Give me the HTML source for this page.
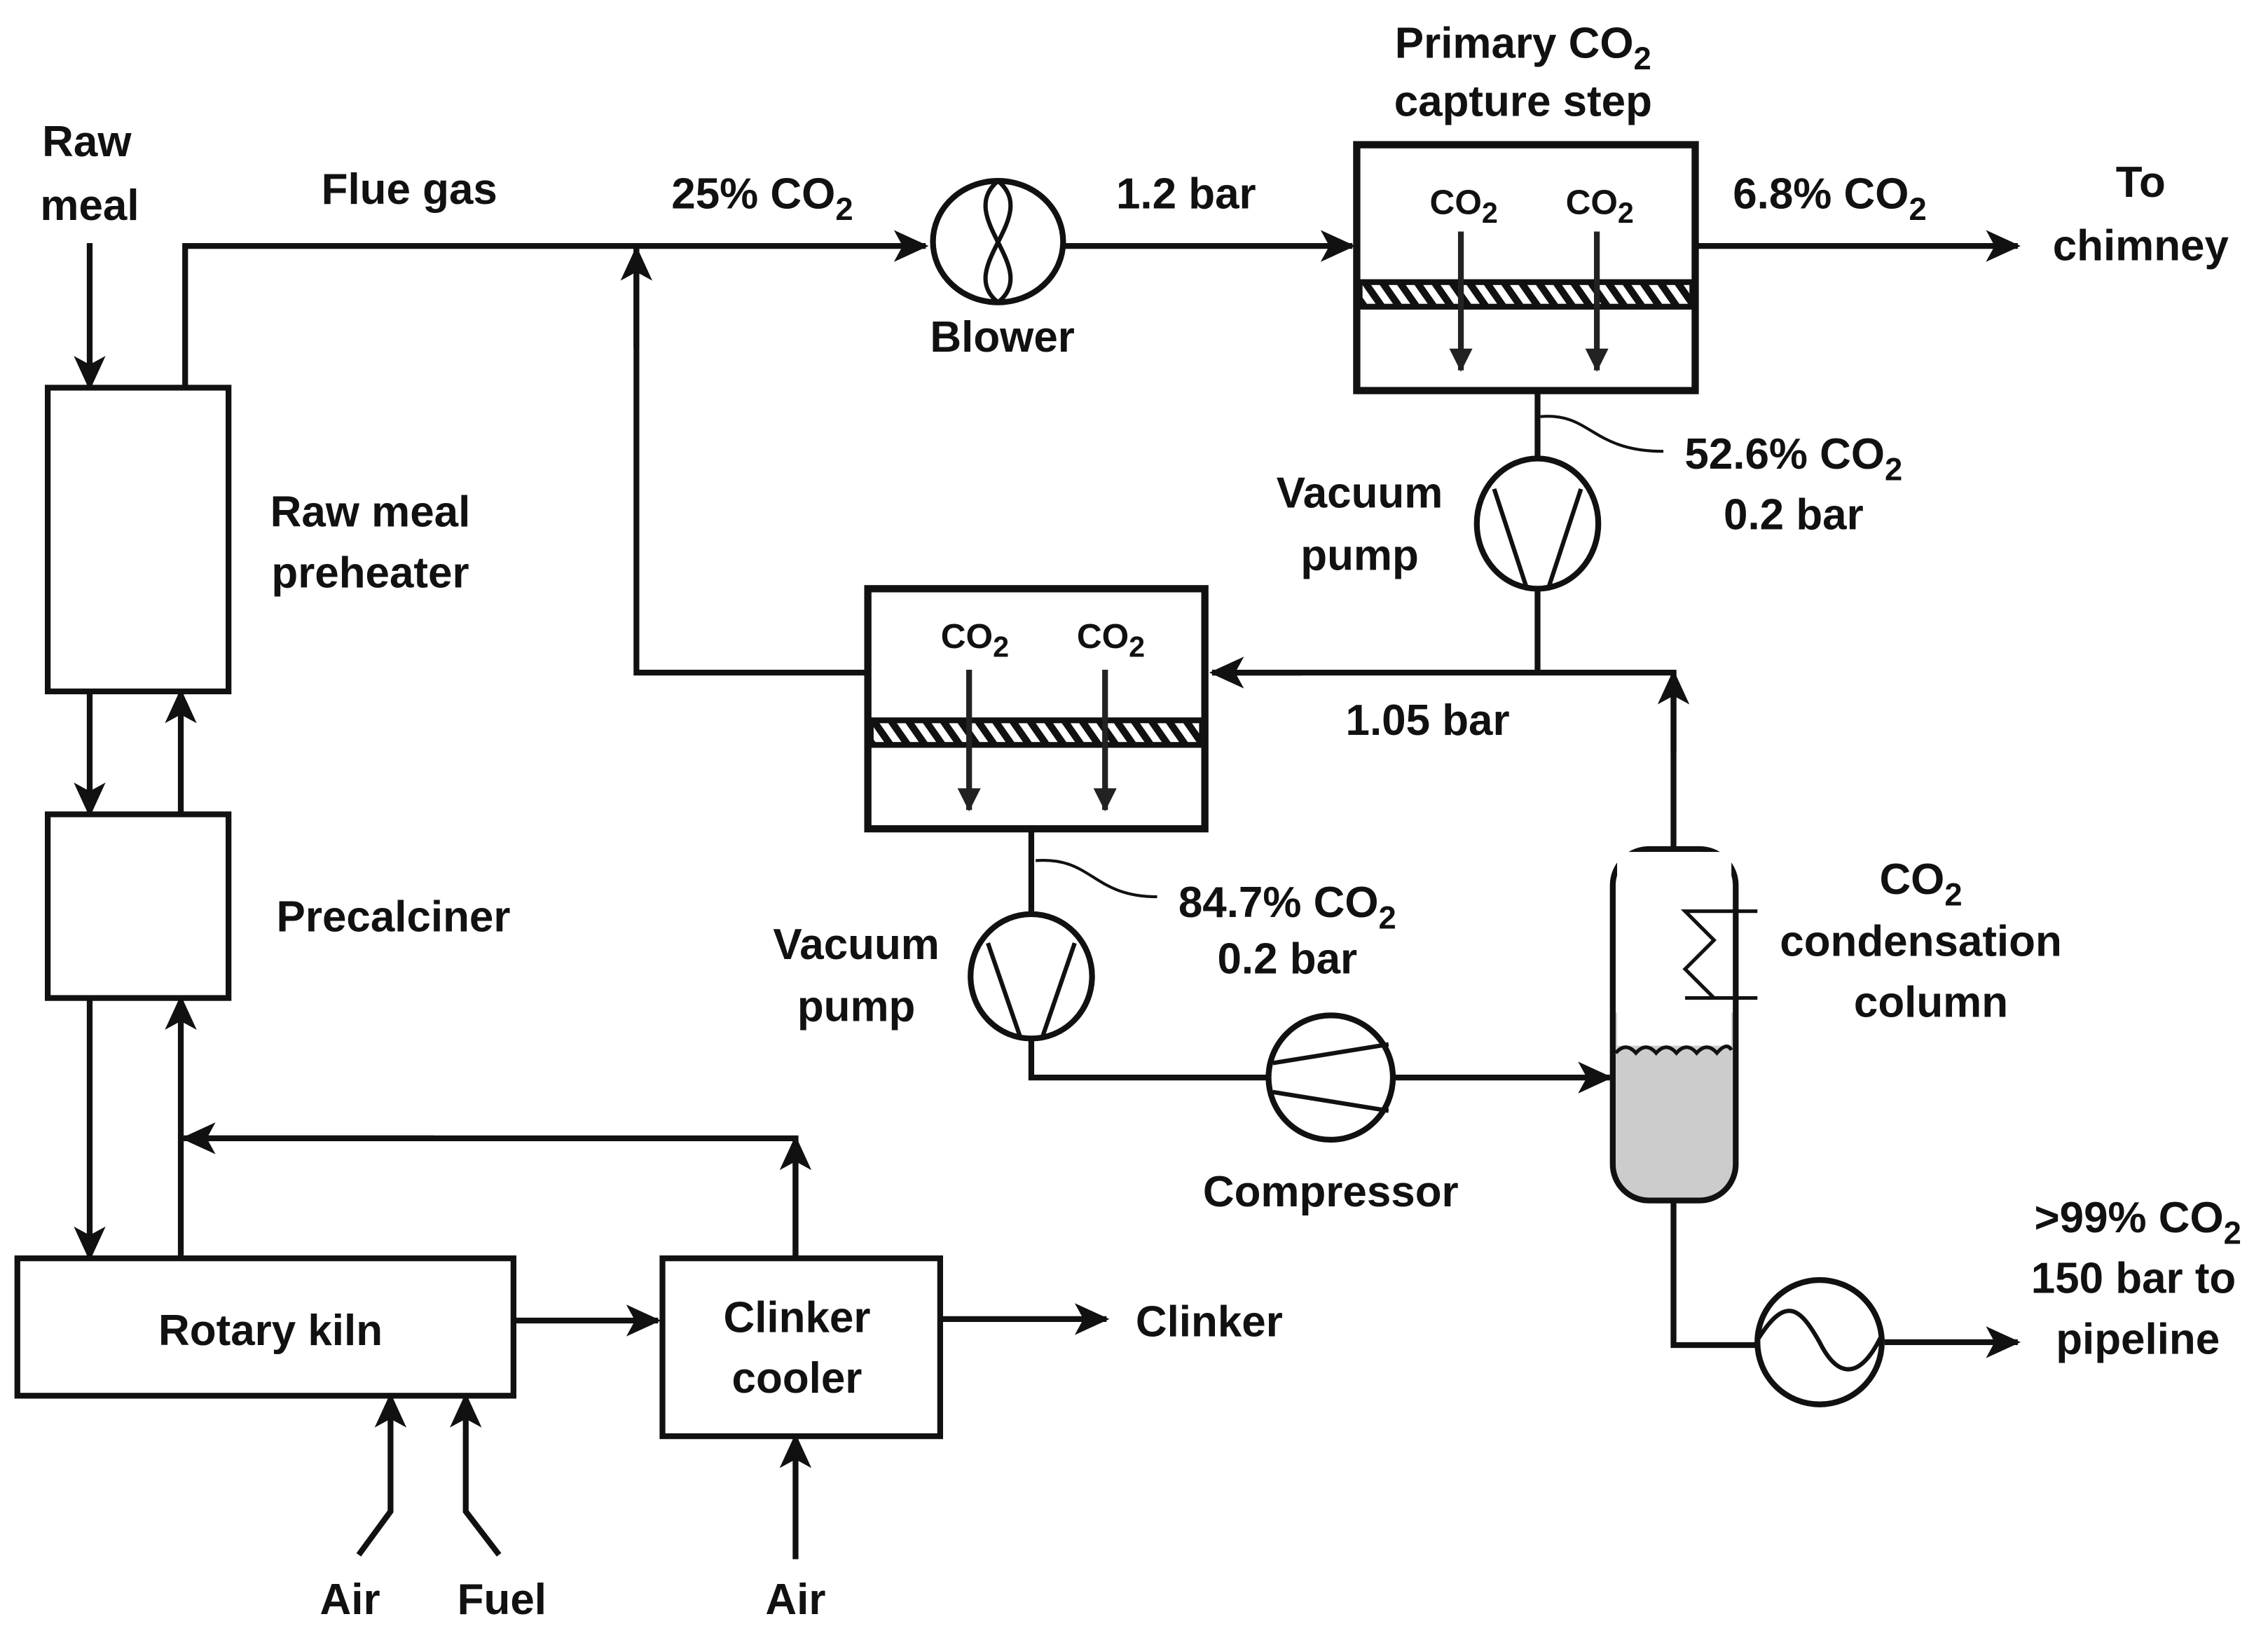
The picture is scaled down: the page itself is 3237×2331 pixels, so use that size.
<!DOCTYPE html>
<html><head><meta charset="utf-8"><style>
html,body{margin:0;padding:0;background:#fff}
svg{display:block}
text{font-family:"Liberation Sans",Arial,sans-serif;font-weight:bold;font-size:30px;fill:#111;text-anchor:middle}
.s{font-size:20px}
.sm{font-size:22px}
</style></head><body>
<svg width="3237" height="2331" viewBox="0 0 1568 1129" xmlns="http://www.w3.org/2000/svg">
<defs>
<marker id="a" markerWidth="24" markerHeight="22" refX="22" refY="11" orient="auto" markerUnits="userSpaceOnUse">
<path d="M0,0 L24,11 L0,22 L6,11 Z" fill="#111"/>
</marker>
<marker id="b" markerWidth="16" markerHeight="30" refX="15" refY="8" orient="auto" markerUnits="userSpaceOnUse">
<path d="M0,0 L16,8 L0,16 Z" fill="#222"/>
</marker>
<pattern id="h" width="12" height="20" patternUnits="userSpaceOnUse" patternTransform="skewX(35)">
<rect width="12" height="20" fill="#fff"/><rect width="6" height="20" fill="#111"/>
</pattern>
</defs>
<g fill="none" stroke="#111" stroke-width="4">
<!-- raw meal -->
<line x1="62" y1="168" x2="62" y2="268" marker-end="url(#a)"/>
<rect x="33" y="268" width="125" height="210"/>
<polyline points="128,268 128,170 640,170" marker-end="url(#a)"/>
<ellipse cx="690" cy="167" rx="45" ry="42"/>
<path d="M690,125 C660,150 720,185 690,209" stroke-width="3"/>
<path d="M690,125 C720,150 660,185 690,209" stroke-width="3"/>
<line x1="735" y1="170" x2="935" y2="170" marker-end="url(#a)"/>
<rect x="938" y="100" width="234" height="170" stroke-width="5"/>
<rect x="940" y="195" width="230" height="17" fill="url(#h)" stroke-width="4"/>
<line x1="1172" y1="170" x2="1395" y2="170" marker-end="url(#a)"/>
<!-- vacuum pump 1 -->
<line x1="1063" y1="270" x2="1063" y2="318"/>
<ellipse cx="1063" cy="362" rx="42" ry="45"/>
<path d="M1033,338 L1055,405 M1093,338 L1071,405" stroke-width="3"/>
<line x1="1063" y1="407" x2="1063" y2="465"/>
<path d="M1065,288 C1100,285 1100,312 1150,312" stroke-width="2"/>
<polyline points="1157,587 1157,465 838,465" />
<line x1="1157" y1="520" x2="1157" y2="465" marker-end="url(#a)"/>
<line x1="900" y1="465" x2="838" y2="465" marker-end="url(#a)"/>
<rect x="600" y="407" width="233" height="166" stroke-width="5"/>
<rect x="602" y="498" width="229" height="17" fill="url(#h)"/>
<polyline points="600,465 440,465 440,170"/>
<line x1="440" y1="240" x2="440" y2="172" marker-end="url(#a)"/>
<!-- vacuum pump 2 -->
<line x1="713" y1="573" x2="713" y2="632"/>
<ellipse cx="713" cy="675" rx="42" ry="43"/>
<path d="M683,652 L705,716 M743,652 L721,716" stroke-width="3"/>
<path d="M716,595 C755,592 755,620 800,620" stroke-width="2"/>
<polyline points="713,718 713,745 877,745"/>
<circle cx="920" cy="745" r="43"/>
<path d="M880,735 L960,722 M880,755 L960,768" stroke-width="3"/>
<line x1="963" y1="745" x2="1113" y2="745" marker-end="url(#a)"/>
<!-- column -->
<rect x="1117" y="727" width="81" height="103" rx="22" fill="#ccc" stroke="none"/>
<rect x="1117" y="700" width="81" height="50" fill="#ccc" stroke="none"/>
<rect x="1115" y="587" width="85" height="243" rx="25"/>
<rect x="1118" y="589" width="79" height="134" fill="#fff" stroke="none"/>
<path d="M1117,728 q7,-8 14,0 q7,-8 14,0 q7,-8 14,0 q7,-8 14,0 q7,-8 14,0 q7,-8 10,-2" stroke-width="2.5"/>
<path d="M1215,630 L1165,630 L1185,650 L1165,670 L1185,690 L1165,690 L1215,690" stroke-width="2.5"/>
<polyline points="1157,830 1157,930 1215,930"/>
<circle cx="1258" cy="928" r="43"/>
<path d="M1216,925 C1235,895 1245,905 1258,928 C1270,952 1285,955 1300,925" stroke-width="3"/>
<line x1="1303" y1="928" x2="1395" y2="928" marker-end="url(#a)"/>
<!-- lower left -->
<line x1="62" y1="478" x2="62" y2="563" marker-end="url(#a)"/>
<line x1="125" y1="563" x2="125" y2="478" marker-end="url(#a)"/>
<rect x="33" y="563" width="125" height="127"/>
<line x1="62" y1="690" x2="62" y2="870" marker-end="url(#a)"/>
<line x1="125" y1="870" x2="125" y2="690" marker-end="url(#a)"/>
<polyline points="550,870 550,787 128,787"/>
<line x1="300" y1="787" x2="127" y2="787" marker-end="url(#a)"/>
<line x1="550" y1="870" x2="550" y2="787" marker-end="url(#a)"/>
<rect x="12" y="870" width="343" height="95"/>
<line x1="355" y1="913" x2="455" y2="913" marker-end="url(#a)"/>
<rect x="458" y="870" width="192" height="123"/>
<line x1="650" y1="912" x2="765" y2="912" marker-end="url(#a)"/>
<polyline points="248,1075 270,1045 270,965" marker-end="url(#a)"/>
<polyline points="345,1075 322,1045 322,965" marker-end="url(#a)"/>
<line x1="550" y1="1078" x2="550" y2="993" marker-end="url(#a)"/>
</g>
<!-- membrane arrows -->
<g stroke="#222" stroke-width="4">
<line x1="1010" y1="160" x2="1010" y2="256" marker-end="url(#b)"/>
<line x1="1104" y1="160" x2="1104" y2="256" marker-end="url(#b)"/>
<line x1="670" y1="463" x2="670" y2="560" marker-end="url(#b)"/>
<line x1="764" y1="463" x2="764" y2="560" marker-end="url(#b)"/>
</g>
<!-- text -->
<text x="60" y="108">Raw</text><text x="62" y="152">meal</text>
<text x="283" y="141">Flue gas</text>
<text x="527" y="144">25% CO<tspan class="sm" dy="8">2</tspan></text>
<text x="820" y="144">1.2 bar</text>
<text x="693" y="243">Blower</text>
<text x="1053" y="40">Primary CO<tspan class="sm" dy="8">2</tspan></text>
<text x="1053" y="80">capture step</text>
<text x="1012" y="148" style="font-size:24px">CO<tspan class="s" dy="6">2</tspan></text>
<text x="1106" y="148" style="font-size:24px">CO<tspan class="s" dy="6">2</tspan></text>
<text x="674" y="448" style="font-size:24px">CO<tspan class="s" dy="6">2</tspan></text>
<text x="768" y="448" style="font-size:24px">CO<tspan class="s" dy="6">2</tspan></text>
<text x="1265" y="144">6.8% CO<tspan class="sm" dy="8">2</tspan></text>
<text x="1480" y="136">To</text><text x="1480" y="180">chimney</text>
<text x="940" y="351">Vacuum</text><text x="940" y="394">pump</text>
<text x="1240" y="324">52.6% CO<tspan class="sm" dy="8">2</tspan></text>
<text x="1240" y="366">0.2 bar</text>
<text x="987" y="508">1.05 bar</text>
<text x="256" y="364">Raw meal</text><text x="256" y="406">preheater</text>
<text x="272" y="644">Precalciner</text>
<text x="592" y="663">Vacuum</text><text x="592" y="706">pump</text>
<text x="890" y="634">84.7% CO<tspan class="sm" dy="8">2</tspan></text>
<text x="890" y="673">0.2 bar</text>
<text x="920" y="834">Compressor</text>
<text x="1328" y="618">CO<tspan class="sm" dy="8">2</tspan></text>
<text x="1328" y="661">condensation</text><text x="1335" y="703">column</text>
<text x="1478" y="852">&gt;99% CO<tspan class="sm" dy="8">2</tspan></text>
<text x="1475" y="894">150 bar to</text><text x="1478" y="936">pipeline</text>
<text x="187" y="930">Rotary kiln</text>
<text x="551" y="921">Clinker</text><text x="551" y="963">cooler</text>
<text x="836" y="924">Clinker</text>
<text x="242" y="1116">Air</text><text x="347" y="1116">Fuel</text><text x="550" y="1116">Air</text>
</svg>
</body></html>
